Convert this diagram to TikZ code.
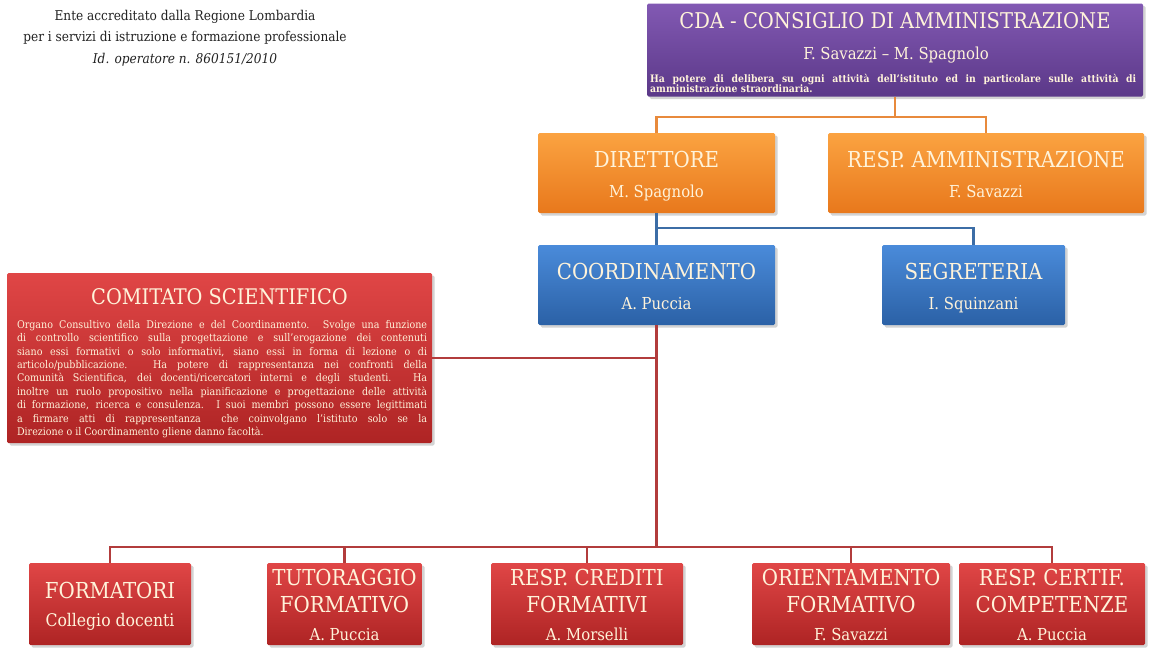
\documentclass[tikz,border=0pt]{standalone}
\usepackage{fontspec}
\setmainfont{DejaVu Serif Condensed}
\usetikzlibrary{shadows}
\definecolor{txt}{HTML}{FFF3DA}
\definecolor{hdrc}{HTML}{222222}
\definecolor{pTop}{HTML}{8259B3}
\definecolor{pBot}{HTML}{5B3888}
\definecolor{oTop}{HTML}{FBA341}
\definecolor{oBot}{HTML}{E8781C}
\definecolor{bTop}{HTML}{4A8BDA}
\definecolor{bBot}{HTML}{2B61A6}
\definecolor{rTop}{HTML}{E04646}
\definecolor{rBot}{HTML}{AE2424}
\definecolor{oLine}{HTML}{E88A3C}
\definecolor{bLine}{HTML}{3C6DA6}
\definecolor{rLine}{HTML}{B23C3C}
\tikzset{
  box/.style={rectangle, rounded corners=1.5pt, inner sep=0pt,
    drop shadow={opacity=0.35, shadow xshift=2.5pt, shadow yshift=-2.5pt}},
  pbox/.style={box, top color=pTop, bottom color=pBot},
  obox/.style={box, top color=oTop, bottom color=oBot},
  bbox/.style={box, top color=bTop, bottom color=bBot},
  rbox/.style={box, top color=rTop, bottom color=rBot},
  lbl/.style={inner sep=0pt, text=txt, align=center},
  ttl/.style={lbl, anchor=base, font=\fontsize{22}{26}\selectfont},
  nm/.style={lbl, anchor=base, font=\fontsize{16.5}{19}\selectfont},
  desc/.style={lbl, anchor=base west, font=\bfseries\fontsize{10.3}{11}\selectfont},
  conn/.style={line width=2.4pt},
}
\begin{document}
\begin{tikzpicture}[x=1pt,y=-1pt]
\useasboundingbox (0,0) rectangle (1149,648);

\coordinate (oy) at (0,117);
\coordinate (by) at (0,228);
\coordinate (ry) at (0,547);

% header
\node[inner sep=0pt, align=center, text=hdrc, font=\fontsize{13.5}{21.5}\selectfont] (hdr) at (185,38)
  {Ente accreditato dalla Regione Lombardia\\per i servizi di istruzione e formazione professionale\\\textit{Id. operatore n. 860151/2010}};

% CDA
\node[pbox, minimum width=496, minimum height=93] (cda) at (895,50) {};
\node[lbl, anchor=base, font=\fontsize{21.7}{24}\selectfont] (cdaT) at (895,28) {CDA - CONSIGLIO DI AMMINISTRAZIONE};
\node[nm] (cdaN) at (896,59) {F. Savazzi -- M. Spagnolo};
\node[desc] (cdaD1) at (650,82)
  {\makebox[486pt][s]{Ha potere di delibera su ogni attività dell'istituto ed in particolare sulle attività di}};
\node[desc] (cdaD2) at (650,92) {amministrazione straordinaria.};

% level 2
\node[obox, minimum width=237, minimum height=80] (dir) at (656.5,173) {};
\node[ttl] (dirT) at (dir.center |- 0,167) {DIRETTORE};
\node[nm] (dirN) at (dir.center |- 0,197) {M. Spagnolo};
\node[obox, minimum width=316, minimum height=80] (amm) at (986,173) {};
\node[ttl] (ammT) at (amm.center |- 0,167) {RESP. AMMINISTRAZIONE};
\node[nm] (ammN) at (amm.center |- 0,197) {F. Savazzi};

% level 3
\node[bbox, minimum width=237, minimum height=80] (coo) at (656.5,285) {};
\node[ttl] (cooT) at (coo.center |- 0,279) {COORDINAMENTO};
\node[nm] (cooN) at (coo.center |- 0,309) {A. Puccia};
\node[bbox, minimum width=183, minimum height=80] (seg) at (973.5,285) {};
\node[ttl] (segT) at (seg.center |- 0,279) {SEGRETERIA};
\node[nm] (segN) at (seg.center |- 0,309) {I. Squinzani};

% comitato
\node[rbox, minimum width=425, minimum height=170] (com) at (219.5,358) {};
\node[lbl, anchor=base, font=\fontsize{21.5}{24}\selectfont] (comT) at (219.5,304) {COMITATO SCIENTIFICO};
\node[lbl, align=left, font=\fontsize{10.6}{13.4}\selectfont] (comB) at (222,379)
  {\makebox[410pt][s]{Organo Consultivo della Direzione e del Coordinamento. Svolge una funzione}\\
   \makebox[410pt][s]{di controllo scientifico sulla progettazione e sull'erogazione dei contenuti}\\
   \makebox[410pt][s]{siano essi formativi o solo informativi, siano essi in forma di lezione o di}\\
   \makebox[410pt][s]{articolo/pubblicazione. Ha potere di rappresentanza nei confronti della}\\
   \makebox[410pt][s]{Comunità Scientifica, dei docenti/ricercatori interni e degli studenti. Ha}\\
   \makebox[410pt][s]{inoltre un ruolo propositivo nella pianificazione e progettazione delle attività}\\
   \makebox[410pt][s]{di formazione, ricerca e consulenza. I suoi membri possono essere legittimati}\\
   \makebox[410pt][s]{a firmare atti di rappresentanza \ che coinvolgano l'istituto solo se la}\\
   \makebox[410pt][l]{Direzione o il Coordinamento gliene danno facoltà.}};

% bottom row
\node[rbox, minimum width=162, minimum height=82] (f1) at (110,604) {};
\node[ttl] (f1T) at (f1.center |- 0,598) {FORMATORI};
\node[lbl, anchor=base, font=\fontsize{17.4}{20}\selectfont] (f1N) at (f1.center |- 0,626) {Collegio docenti};

\node[rbox, minimum width=155, minimum height=82] (f2) at (344.5,604) {};
\node[ttl] (f2T) at (f2.center |- 0,585) {TUTORAGGIO};
\node[ttl] (f2U) at (f2.center |- 0,612) {FORMATIVO};
\node[nm] (f2N) at (f2.center |- 0,640) {A. Puccia};

\node[rbox, minimum width=192, minimum height=82] (f3) at (587,604) {};
\node[ttl] (f3T) at (f3.center |- 0,585) {RESP. CREDITI};
\node[ttl] (f3U) at (f3.center |- 0,612) {FORMATIVI};
\node[nm] (f3N) at (f3.center |- 0,640) {A. Morselli};

\node[rbox, minimum width=198, minimum height=82] (f4) at (851,604) {};
\node[ttl] (f4T) at (f4.center |- 0,585) {ORIENTAMENTO};
\node[ttl] (f4U) at (f4.center |- 0,612) {FORMATIVO};
\node[nm] (f4N) at (f4.center |- 0,640) {F. Savazzi};

\node[rbox, minimum width=186, minimum height=82] (f5) at (1052,604) {};
\node[ttl] (f5T) at (f5.center |- 0,585) {RESP. CERTIF.};
\node[ttl] (f5U) at (f5.center |- 0,612) {COMPETENZE};
\node[nm] (f5N) at (f5.center |- 0,640) {A. Puccia};

% connectors
\draw[conn, oLine] (cda.south) -- (cda.south |- oy);
\draw[conn, oLine] (dir.north) -- (dir.north |- oy) -- (amm.north |- oy) -- (amm.north);
\draw[conn, bLine] (dir.south) -- (dir.south |- by) -- (seg.north |- by) -- (seg.north);
\draw[conn, bLine] (coo.north) -- (coo.north |- by);
\draw[conn, rLine] (coo.south) -- (coo.south |- ry);
\draw[conn, rLine] (com.east) -- (com.east -| coo.south);
\draw[conn, rLine] (f1.north) -- (f1.north |- ry) -- (f5.north |- ry) -- (f5.north);
\draw[conn, rLine] (f2.north) -- (f2.north |- ry);
\draw[conn, rLine] (f3.north) -- (f3.north |- ry);
\draw[conn, rLine] (f4.north) -- (f4.north |- ry);
\end{tikzpicture}
\end{document}
